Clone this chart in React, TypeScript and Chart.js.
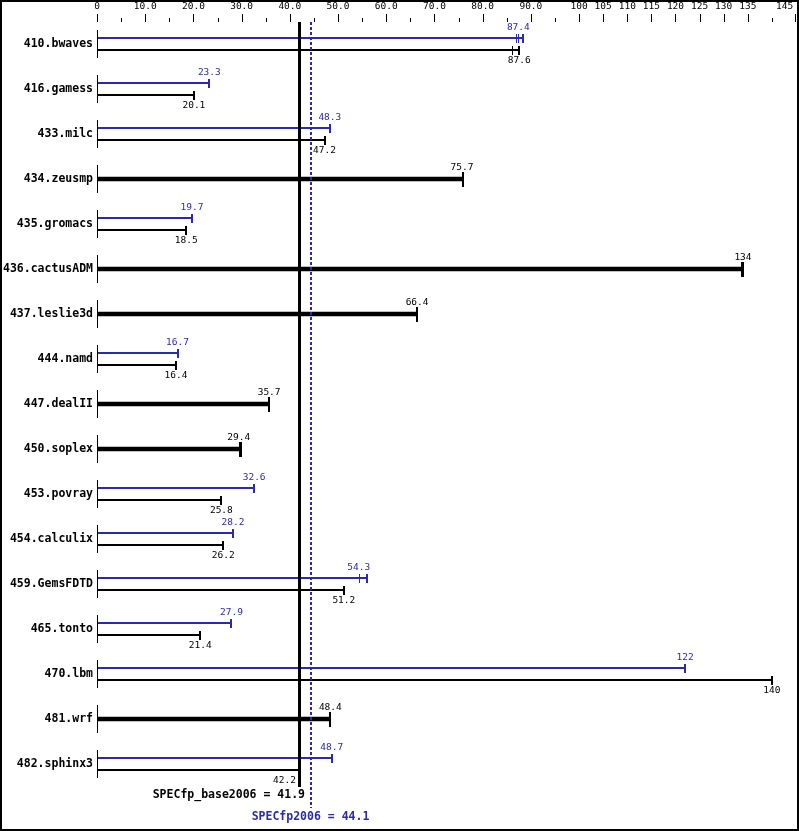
import { useEffect, useRef } from 'react';
import { Chart, registerables } from 'chart.js';

Chart.register(...registerables);

const CATEGORIES = [
  '410.bwaves', '416.gamess', '433.milc', '434.zeusmp', '435.gromacs', '436.cactusADM',
  '437.leslie3d', '444.namd', '447.dealII', '450.soplex', '453.povray', '454.calculix',
  '459.GemsFDTD', '465.tonto', '470.lbm', '481.wrf', '482.sphinx3',
];

// Peak ratios (median run); null = only a base result is drawn for that benchmark
const PEAK_VALUES = [87.4, 23.3, 48.3, null, 19.7, null, null, 16.7, null, null, 32.6, 28.2, 54.3, 27.9, 122, null, 48.7];
const PEAK_MAX_RUN = [88.4, null, null, null, null, null, null, null, null, null, null, null, 56.1, null, null, null, null];
const PEAK_MIN_RUN = [86.9, null, null, null, null, null, null, null, null, null, null, null, null, null, null, null, null];

// Base ratios (median run)
const BASE_VALUES = [87.6, 20.1, 47.2, 75.7, 18.5, 134, 66.4, 16.4, 35.7, 29.4, 25.8, 26.2, 51.2, 21.4, 140, 48.4, 42.2];
const BASE_MAX_RUN = [null, null, null, 76.0, null, null, null, null, null, 29.8, null, null, null, null, null, null, null];
const BASE_MIN_RUN = [86.1, null, null, null, null, 133.6, null, null, null, null, null, null, null, null, null, null, null];

const BASE_MEAN = 41.9;
const PEAK_MEAN = 44.1;
const BASE_MEAN_LABEL = 'SPECfp_base2006';
const PEAK_MEAN_LABEL = 'SPECfp2006';

// Axis ticks; the last label is pulled left so it stays inside the frame
const TICK_VALUES = [0, 5, 10, 15, 20, 25, 30, 35, 40, 45, 50, 55, 60, 65, 70, 75, 80, 85, 90, 95, 100, 105, 110, 115, 120, 125, 130, 135, 140, 145];
const TICK_LABELS = ['0', '', '10.0', '', '20.0', '', '30.0', '', '40.0', '', '50.0', '', '60.0', '', '70.0', '', '80.0', '', '90.0', '', '100', '105', '110', '115', '120', '125', '130', '135', '', '145    '];
const X_MAX = 145;

const FONT = '"DejaVu Sans Mono", "Liberation Mono", monospace';
const BLUE = '#2a2ab0';
const BLACK = '#000000';

const decorPlugin = {
  id: 'specDecor',
  beforeDraw(chart: any) {
    const ctx = chart.ctx;
    ctx.save();
    ctx.fillStyle = '#ffffff';
    ctx.fillRect(0, 0, chart.width, chart.height);
    ctx.restore();
  },
  afterDatasetsDraw(chart: any) {
    const ctx = chart.ctx;
    const xs = chart.scales.x;
    const ys = chart.scales.y;
    ctx.save();

    // axis tick marks
    ctx.fillStyle = BLACK;
    TICK_VALUES.forEach((v, i) => {
      const px = Math.min(Math.round(xs.getPixelForValue(v)), 795);
      const long = TICK_LABELS[i].trim() !== '';
      ctx.fillRect(px, long ? 14 : 18, 1, long ? 8 : 4);
    });

    // row marks on the zero line
    const x0 = Math.round(xs.getPixelForValue(0));
    CATEGORIES.forEach((_, i) => {
      const cy = ys.getPixelForValue(i);
      ctx.fillRect(x0, Math.round(cy - 14), 1, 28);
    });

    // mean lines
    const bx = Math.round(xs.getPixelForValue(BASE_MEAN));
    ctx.fillStyle = BLACK;
    ctx.fillRect(bx - 1, 22, 3, 765);
    const pxm = Math.round(xs.getPixelForValue(PEAK_MEAN));
    ctx.fillStyle = BLUE;
    for (let y = 22; y < 808; y += 5) ctx.fillRect(pxm, y, 2, Math.min(3, 808 - y));

    const marks = (color: string, y: number, h: number, value: number, maxRun: number | null, minRun: number | null) => {
      ctx.fillStyle = color;
      const top = Math.round(y - h / 2);
      const endX = xs.getPixelForValue(maxRun ?? value);
      ctx.fillRect(Math.round(endX) - 1, top, 2, h);
      if (maxRun != null) ctx.fillRect(Math.round(xs.getPixelForValue(value)), top, 1, h);
      if (minRun != null) ctx.fillRect(Math.round(xs.getPixelForValue(minRun)), top, 1, h);
    };

    // value label, nudged left if it would sit on the base mean line
    const label = (text: string, value: number, y: number, color: string) => {
      let cx = xs.getPixelForValue(value);
      const w = ctx.measureText(text).width;
      if (cx - w / 2 < bx + 2 && cx + w / 2 > bx - 1) cx = bx - 3 - w / 2;
      ctx.fillStyle = color;
      ctx.fillText(text, cx, y);
    };

    const peakMeta = chart.getDatasetMeta(0);
    const baseMeta = chart.getDatasetMeta(1);
    const singleMeta = chart.getDatasetMeta(2);
    ctx.font = `9.5px ${FONT}`;
    ctx.textAlign = 'center';
    ctx.textBaseline = 'middle';

    CATEGORIES.forEach((_, i) => {
      const pv = PEAK_VALUES[i];
      const bv = BASE_VALUES[i];
      if (pv != null) {
        const py = peakMeta.data[i].y;
        const by = baseMeta.data[i].y;
        marks(BLUE, py, 9, pv, PEAK_MAX_RUN[i], PEAK_MIN_RUN[i]);
        marks(BLACK, by, 9, bv, BASE_MAX_RUN[i], BASE_MIN_RUN[i]);
        label(String(pv), pv, py - 10.5, BLUE);
        label(String(bv), bv, by + 10.5, BLACK);
      } else {
        const sy = singleMeta.data[i].y;
        marks(BLACK, sy, 15, bv, BASE_MAX_RUN[i], BASE_MIN_RUN[i]);
        label(String(bv), bv, sy - 11.5, BLACK);
      }
    });

    // mean labels
    ctx.font = `bold 11.5px ${FONT}`;
    ctx.fillStyle = BLACK;
    ctx.textAlign = 'right';
    ctx.fillText(`${BASE_MEAN_LABEL} = ${BASE_MEAN}`, bx + 6, 795);
    ctx.fillStyle = BLUE;
    ctx.textAlign = 'center';
    ctx.fillText(`${PEAK_MEAN_LABEL} = ${PEAK_MEAN}`, pxm + 0.5, 817);

    ctx.restore();
  },
  afterDraw(chart: any) {
    const ctx = chart.ctx;
    ctx.save();
    ctx.strokeStyle = BLACK;
    ctx.lineWidth = 2;
    ctx.strokeRect(1, 1, chart.width - 2, chart.height - 2);
    ctx.restore();
  },
};

export default function App() {
  const ref = useRef<HTMLCanvasElement>(null);
  useEffect(() => {
    document.body.style.margin = '0';
    const canvas = ref.current!;
    const peakData = PEAK_VALUES.map((v, i) => (v == null ? null : PEAK_MAX_RUN[i] ?? v));
    const baseData = BASE_VALUES.map((v, i) => (PEAK_VALUES[i] == null ? null : BASE_MAX_RUN[i] ?? v));
    const singleData = BASE_VALUES.map((v, i) => (PEAK_VALUES[i] == null ? BASE_MAX_RUN[i] ?? v : null));
    const chart = new Chart(canvas, {
      type: 'bar',
      data: {
        labels: CATEGORIES,
        datasets: [
          { label: 'peak', data: peakData, backgroundColor: BLUE, borderWidth: 0, categoryPercentage: 24 / 45, barPercentage: 2 / 12 },
          { label: 'base', data: baseData, backgroundColor: BLACK, borderWidth: 0, categoryPercentage: 24 / 45, barPercentage: 2 / 12 },
          { label: 'base=peak', data: singleData, backgroundColor: BLACK, borderWidth: 0, grouped: false, barThickness: 4 } as any,
        ],
      },
      options: {
        indexAxis: 'y',
        responsive: false,
        animation: false,
        layout: { padding: { left: 0, right: 3, top: 0, bottom: 44.5 } },
        plugins: { legend: { display: false }, tooltip: { enabled: false } },
        scales: {
          x: {
            type: 'linear',
            position: 'top',
            min: 0,
            max: X_MAX,
            grid: { display: false, drawTicks: false },
            border: { display: false },
            afterBuildTicks: (s: any) => {
              s.ticks = TICK_VALUES.map((v) => ({ value: v }));
            },
            afterFit: (s: any) => {
              s.height = 21.5;
              s.paddingLeft = 0;
              s.paddingRight = 0;
            },
            ticks: {
              autoSkip: false,
              maxRotation: 0,
              minRotation: 0,
              padding: 8.8,
              color: BLACK,
              font: { family: FONT, size: 9.5 },
              callback: (_v: any, i: number) => TICK_LABELS[i],
            },
          },
          y: {
            type: 'category',
            grid: { display: false, drawTicks: false },
            border: { display: false },
            afterFit: (s: any) => {
              s.width = 97;
              s.paddingTop = 0;
              s.paddingBottom = 0;
            },
            ticks: {
              autoSkip: false,
              padding: 4,
              color: BLACK,
              font: { family: FONT, size: 11.5, weight: 'bold' },
            },
          },
        },
      },
      plugins: [decorPlugin],
    } as any);
    return () => chart.destroy();
  }, []);
  return <canvas ref={ref} width={799} height={831} style={{ display: 'block' }} />;
}
